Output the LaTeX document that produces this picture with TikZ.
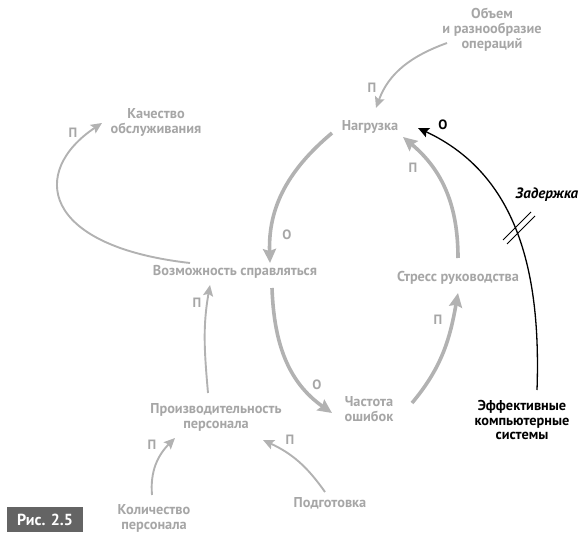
\documentclass[tikz,border=0pt]{standalone}
\usepackage{fontspec}
\setmainfont{PT Sans}
\usepackage{tikz}
\usetikzlibrary{calc,positioning,arrows.meta}
\definecolor{txtgray}{HTML}{A6A6A6}
\definecolor{arrgray}{HTML}{B2B2B2}
\definecolor{boxgray}{HTML}{646464}
\tikzstyle{var}       = [align=center, text=txtgray, font=\fontsize{14.3}{15}\selectfont\bfseries, inner sep=1pt]
\tikzstyle{varblack}  = [var, text=black, font=\fontsize{14.3}{14.3}\selectfont\bfseries]
\tikzstyle{sign}      = [text=txtgray, font=\fontsize{13.5}{15}\selectfont\bfseries, inner sep=0pt]
\tikzstyle{thickline} = [draw=arrgray, line width=3.6pt, -{Stealth[length=14pt,width=13pt,inset=2pt]}]
\tikzstyle{thinline}  = [draw=arrgray, line width=1.9pt, -{Stealth[length=11pt,width=10pt,inset=2pt]}]
\tikzstyle{blackline} = [draw=black, line width=1.3pt, -{Stealth[length=11pt,width=10pt,inset=2pt]}]

\begin{document}
\begin{tikzpicture}[x=1pt,y=1pt]
	\useasboundingbox (0,0) rectangle (583,541);
	% variables
	\node[var] (vol) at (492,511) {Объем\\и разнообразие\\операций};
	\node[var] (load) at (370,414) {Нагрузка};
	\node[var] (qual) at (156,419) {Качество\\обслуживания};
	\node[var] (cope) at (235,269) {Возможность справляться};
	\node[var] (stress) at (458,263) {Стресс руководства};
	\node[var] (errors) at (369,132) {Частота\\ошибок};
	\node[var] (prod) at (216,124) {Производительность\\персонала};
	\node[var] (staff) at (154,23) {Количество\\персонала};
	\node[var] (train) at (330,38) {Подготовка};
	\node[varblack] (eff) at (522,121) {Эффективные\\компьютерные\\системы};
	\node[font=\fontsize{15}{17}\selectfont\bfseries\itshape, inner sep=0pt] (delay) at (547,346) {Задержка};
	\node[fill=boxgray, text=white, minimum width=76pt, minimum height=25pt, inner sep=0pt,
		font=\fontsize{16}{18}\selectfont\bfseries] (fig) at (45,21.5) {Рис. 2.5};

	% links
	\draw[thinline] ([shift={(-45,-13)}]vol.center) to[out=200,in=70] ([shift={(6,19)}]load.center);
	\draw[thickline] ([shift={(-38,-6)}]load.center) to[out=220,in=92] ([shift={(35,9)}]cope.center);
	\draw[thinline] ([shift={(-45,9)}]cope.center) .. controls +(-150,17) and +(-72,-48) .. ([shift={(-54,-1)}]qual.center);
	\draw[thickline] ([shift={(37,-16)}]cope.center) to[out=-88,in=145] ([shift={(-37,-4)}]errors.center);
	\draw[thickline] ([shift={(43,6)}]errors.center) to[out=50,in=260] ([shift={(0,-15)}]stress.center);
	\draw[thickline] ([shift={(0,20)}]stress.center) to[out=90,in=-40] ([shift={(33,-10)}]load.center);
	\draw[blackline] ([shift={(15,30)}]eff.center) to[out=88,in=-25] ([shift={(48,-1)}]load.center);
	\draw[thinline] ([shift={(-8,24)}]prod.center) to[out=95,in=260] ([shift={(-25,-13)}]cope.center);
	\draw[thinline] ([shift={(-2,23)}]staff.center) to[out=95,in=225] ([shift={(-41,-21)}]prod.center);
	\draw[thinline] ([shift={(-5,11)}]train.center) to[out=125,in=-25] ([shift={(47,-23)}]prod.center);

	% delay mark
	\coordinate (brk) at (518,314);
	\draw[line width=0.8pt] ($(brk)+(-15,-13)$) -- ($(brk)+(13,15)$);
	\draw[line width=0.8pt] ($(brk)+(-11,-17)$) -- ($(brk)+(17,11)$);

	% polarities
	\node[sign] (s1) at (372,453) {П};
	\node[sign] (s2) at (287,306) {О};
	\node[sign] (s3) at (73,408) {П};
	\node[sign] (s4) at (317,156) {О};
	\node[sign] (s5) at (438,221) {П};
	\node[sign] (s6) at (413,373) {П};
	\node[sign, text=black] (s7) at (443,416) {О};
	\node[sign] (s8) at (197,238) {П};
	\node[sign] (s9) at (152,96) {П};
	\node[sign] (s10) at (290,101) {П};
\end{tikzpicture}
\end{document}
